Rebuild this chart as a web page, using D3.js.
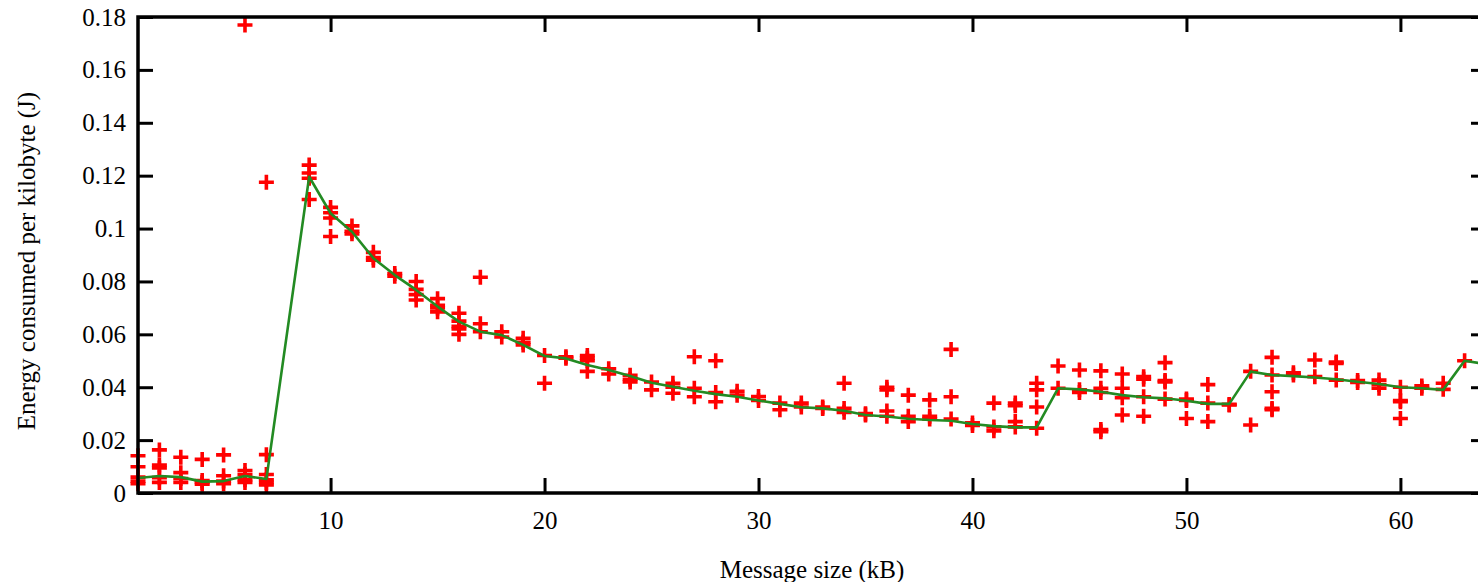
<!DOCTYPE html>
<html>
<head>
<meta charset="utf-8">
<script src="https://cdn.jsdelivr.net/npm/d3@7"></script>
<style>
  html, body { margin: 0; padding: 0; background: #fff; overflow: hidden; }
  svg { display: block; }
  text { font-family: "Liberation Serif", "Times New Roman", serif; fill: #000; }
</style>
</head>
<body>
<svg id="chart" width="1478" height="582"></svg>
<script>
// Message sizes (kB) that were measured
const sizes = [1, 2, 3, 4, 5, 6, 7, 9, 10, 11, 12, 13, 14, 15, 16, 17, 18, 19, 20,
  21, 22, 23, 24, 25, 26, 27, 28, 29, 30, 31, 32, 33, 34, 35, 36, 37, 38, 39, 40,
  41, 42, 43, 44, 45, 46, 47, 48, 49, 50, 51, 52, 53, 54, 55, 56, 57, 58, 59, 60,
  61, 62, 63, 64];

// Individual runs: energy per kilobyte (J) for each message size
const runs = [
  [0.0141, 0.0099, 0.006, 0.0045, 0.0035],
  [0.0163, 0.0106, 0.0095, 0.0058, 0.004],
  [0.0135, 0.0077, 0.0055, 0.004],
  [0.0127, 0.0047, 0.004, 0.0033],
  [0.0144, 0.0065, 0.0045, 0.0035],
  [0.177, 0.0085, 0.007, 0.005, 0.004],
  [0.1175, 0.0145, 0.007, 0.005, 0.004, 0.003],
  [0.124, 0.121, 0.119, 0.111],
  [0.108, 0.106, 0.104, 0.097],
  [0.101, 0.099, 0.098],
  [0.091, 0.089, 0.088],
  [0.083, 0.082],
  [0.080, 0.077, 0.075, 0.073],
  [0.0735, 0.071, 0.070, 0.0685],
  [0.068, 0.065, 0.063, 0.062, 0.060],
  [0.0816, 0.064, 0.061],
  [0.061, 0.059],
  [0.0585, 0.057, 0.056],
  [0.052, 0.0415],
  [0.0515, 0.051],
  [0.052, 0.051, 0.050, 0.046],
  [0.047, 0.045],
  [0.0445, 0.043, 0.042],
  [0.042, 0.039],
  [0.0415, 0.040, 0.0377],
  [0.0515, 0.0396, 0.0364],
  [0.050, 0.038, 0.0345],
  [0.0385, 0.037],
  [0.0365, 0.035],
  [0.034, 0.0315],
  [0.034, 0.0325],
  [0.0325, 0.032],
  [0.0415, 0.032, 0.0305],
  [0.030, 0.0295],
  [0.040, 0.039, 0.031, 0.029],
  [0.037, 0.029, 0.027],
  [0.0352, 0.029, 0.028],
  [0.0543, 0.0364, 0.028],
  [0.0265, 0.0255],
  [0.034, 0.025, 0.0235],
  [0.034, 0.033, 0.027, 0.025],
  [0.0415, 0.039, 0.0325, 0.0245],
  [0.048, 0.0396],
  [0.0465, 0.039, 0.038],
  [0.0462, 0.0396, 0.038, 0.024, 0.0232],
  [0.045, 0.0396, 0.036, 0.0295],
  [0.044, 0.043, 0.0364, 0.029],
  [0.0493, 0.0425, 0.042, 0.0355],
  [0.0355, 0.035, 0.0282],
  [0.041, 0.034, 0.027],
  [0.0335, 0.0333],
  [0.046, 0.0257],
  [0.0513, 0.0446, 0.0383, 0.032, 0.0315],
  [0.0455, 0.0446],
  [0.0503, 0.044],
  [0.0495, 0.049, 0.0427],
  [0.0425, 0.0418],
  [0.0427, 0.041, 0.0396],
  [0.040, 0.035, 0.0345, 0.0282],
  [0.0405, 0.0396],
  [0.0415, 0.0392],
  [0.050],
  [0.0485]
];

// Typical (median) energy per kilobyte for each message size
const typical = [0.0057, 0.0064, 0.006, 0.0043, 0.0045, 0.0064, 0.0053,
  0.1196, 0.1058, 0.0988, 0.0888, 0.0824, 0.0768, 0.0705, 0.0648, 0.061,
  0.0597, 0.056, 0.0518, 0.0509, 0.0484, 0.0465, 0.0442, 0.0417, 0.0402,
  0.0387, 0.0374, 0.0364, 0.035, 0.0337, 0.0324, 0.032, 0.0311, 0.0295,
  0.0289, 0.0281, 0.0276, 0.0273, 0.0261, 0.0253, 0.0248, 0.0248, 0.0396,
  0.0392, 0.0383, 0.037, 0.0362, 0.0358, 0.0349, 0.0337, 0.0337, 0.0459,
  0.0446, 0.0442, 0.0437, 0.043, 0.0421, 0.0412, 0.040, 0.0396, 0.039,
  0.050, 0.0487];

const xTicks = [10, 20, 30, 40, 50, 60];
const yTicks = [0, 0.02, 0.04, 0.06, 0.08, 0.1, 0.12, 0.14, 0.16, 0.18];
const xTitle = "Message size (kB)";
const yTitle = "Energy consumed per kilobyte (J)";

const svg = d3.select("#chart");
const plotLeft = 138, plotRight = 1486, plotTop = 17, plotBottom = 493;
const tickLen = 15;
const fontSize = "25px";

const x = d3.scaleLinear().domain([1, 64]).range([plotLeft, plotRight]);
const y = d3.scaleLinear().domain([0, 0.18]).range([plotBottom, plotTop]);

const fmtY = d => d === 0 ? "0" : String(+d.toFixed(2));

function styleAxis(g) {
  g.select(".domain").remove();
  g.selectAll(".tick line").attr("stroke", "#000").attr("stroke-width", 3);
  g.selectAll(".tick text")
    .style("font-family", '"Liberation Serif", "Times New Roman", serif')
    .style("font-size", fontSize)
    .attr("fill", "#000");
}

// Left axis: inward ticks with labels
svg.append("g")
  .attr("transform", `translate(${plotLeft},0)`)
  .call(d3.axisLeft(y).tickValues(yTicks).tickFormat(fmtY)
    .tickSize(-tickLen).tickPadding(12))
  .call(styleAxis);

// Right axis: inward ticks only
svg.append("g")
  .attr("transform", `translate(${plotRight},0)`)
  .call(d3.axisRight(y).tickValues(yTicks).tickFormat("").tickSize(-tickLen))
  .call(styleAxis);

// Bottom axis: inward ticks with labels
svg.append("g")
  .attr("transform", `translate(0,${plotBottom})`)
  .call(d3.axisBottom(x).tickValues(xTicks).tickFormat(d3.format("d"))
    .tickSize(-tickLen).tickPadding(18))
  .call(styleAxis);

// Top axis: inward ticks only
svg.append("g")
  .attr("transform", `translate(0,${plotTop})`)
  .call(d3.axisTop(x).tickValues(xTicks).tickFormat("").tickSize(-tickLen))
  .call(styleAxis);

// Individual measurements as "+" markers
const points = [];
sizes.forEach((s, i) => runs[i].forEach(v => points.push({ s, v })));

const arm = 7.5;
svg.append("g")
  .selectAll("path")
  .data(points)
  .join("path")
  .attr("transform", d => `translate(${x(d.s)},${y(d.v)})`)
  .attr("d", `M${-arm},0H${arm}M0,${-arm}V${arm}`)
  .attr("stroke", "#ff0000")
  .attr("stroke-width", 3.6)
  .attr("fill", "none");

// Typical-value line
const line = d3.line()
  .x((d, i) => x(sizes[i]))
  .y(d => y(d));

svg.append("path")
  .datum(typical)
  .attr("d", line)
  .attr("fill", "none")
  .attr("stroke", "#238b23")
  .attr("stroke-width", 2.6)
  .attr("stroke-linejoin", "round");

// Plot frame
svg.append("rect")
  .attr("x", plotLeft).attr("y", plotTop)
  .attr("width", plotRight - plotLeft).attr("height", plotBottom - plotTop)
  .attr("fill", "none")
  .attr("stroke", "#000")
  .attr("stroke-width", 3.5);

// Axis titles
svg.append("text")
  .attr("x", (plotLeft + plotRight) / 2)
  .attr("y", 578)
  .attr("text-anchor", "middle")
  .style("font-size", fontSize)
  .text(xTitle);

svg.append("text")
  .attr("transform", `translate(35,261) rotate(-90)`)
  .attr("text-anchor", "middle")
  .style("font-size", fontSize)
  .text(yTitle);
</script>
</body>
</html>
